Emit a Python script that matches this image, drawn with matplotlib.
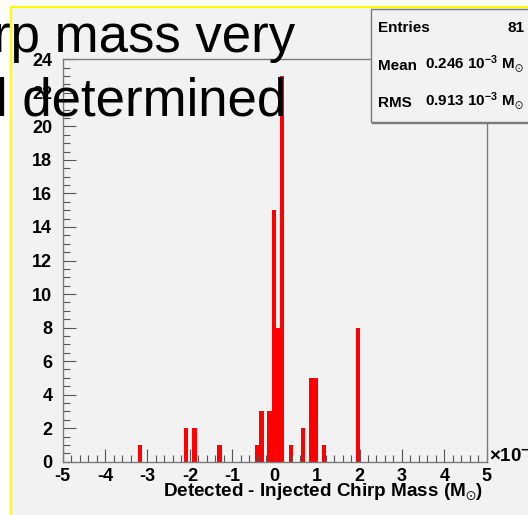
import matplotlib
matplotlib.use("Agg")
import matplotlib.pyplot as plt
from matplotlib.patches import Rectangle
from matplotlib.lines import Line2D
from matplotlib.ticker import MultipleLocator

# histogram of detected - injected chirp mass, units of 1e-3 Msun
bin_centres = [-3.17, -2.09, -1.89, -1.30, -0.41, -0.31, -0.12, -0.02,
               0.08, 0.18, 0.38, 0.67, 0.87, 0.97, 1.17, 1.97]
counts = [1, 2, 2, 1, 1, 3, 3, 15, 8, 23, 1, 2, 5, 5, 1, 8]
bin_width = 0.1

x_range = (-5, 5)
y_range = (0, 24)

stats_names = ["Entries", "Mean", "RMS"]
stats_values = ["81", r"0.246 10$^{-3}$ M$_{\odot}$", r"0.913 10$^{-3}$ M$_{\odot}$"]

title_lines = ["rp mass very", "l determined"]

W, H = 528, 515
BG = "#f2f2f2"
GREY = "#7a7a7a"

plt.rcParams["font.family"] = ["Liberation Sans", "DejaVu Sans"]
plt.rcParams["axes.unicode_minus"] = False
plt.rcParams["mathtext.fontset"] = "custom"
plt.rcParams["mathtext.rm"] = "Liberation Sans:bold"
plt.rcParams["mathtext.it"] = "Liberation Sans:bold"
plt.rcParams["mathtext.bf"] = "Liberation Sans:bold"
plt.rcParams["mathtext.fallback"] = "stixsans"


def fx(px):
    return px / W


def fy(py):
    return 1 - py / H


fig = plt.figure(figsize=(W / 100, H / 100), dpi=100, facecolor="white")

# slide panel with yellow border
panel = Rectangle((fx(11), fy(H + 5)), fx(W + 10), fy(7) - fy(H + 5),
                  transform=fig.transFigure, facecolor=BG,
                  edgecolor="#ffff00", linewidth=1.5, zorder=-5)
fig.patches.append(panel)

ax = fig.add_axes([fx(62.7), fy(461.7), fx(486.7) - fx(62.7), fy(59.3) - fy(461.7)])
ax.set_facecolor(BG)
ax.bar(bin_centres, counts, width=bin_width, color="#ff0000", linewidth=0)
ax.set_xlim(*x_range)
ax.set_ylim(*y_range)

for s in ax.spines.values():
    s.set_color(GREY)
    s.set_linewidth(1)

ax.xaxis.set_major_locator(MultipleLocator(1))
ax.xaxis.set_minor_locator(MultipleLocator(0.2))
ax.yaxis.set_major_locator(MultipleLocator(2))
ax.yaxis.set_minor_locator(MultipleLocator(0.5))
ax.tick_params(which="both", direction="in", color="#555555", width=0.8)
ax.tick_params(which="major", length=9.4)
ax.tick_params(which="minor", length=5)
ax.tick_params(axis="y", which="major", pad=7.5)
ax.tick_params(axis="x", which="major", pad=4.5)
for lab in ax.get_xticklabels() + ax.get_yticklabels():
    lab.set_fontweight("bold")
    lab.set_fontsize(13)

fig.text(fx(483), fy(496.5), r"Detected - Injected Chirp Mass (M$_{\odot}$)",
         ha="right", va="baseline", fontsize=13.6, fontweight="bold")
fig.text(fx(489), fy(462), r"$\times$10$^{-3}$", ha="left", va="baseline",
         fontsize=13.5, fontweight="bold")

# stats box
box = Rectangle((fx(371), fy(122)), fx(W + 10) - fx(371), fy(9) - fy(122),
                transform=fig.transFigure, facecolor=BG, edgecolor=GREY,
                linewidth=1, zorder=5)
fig.patches.append(box)
fig.add_artist(Line2D([fx(372), fx(W)], [fy(123), fy(123)], color=GREY,
                      linewidth=1, transform=fig.transFigure, zorder=5))
for i, (name, val) in enumerate(zip(stats_names, stats_values)):
    base = 32 + i * 37.5
    fig.text(fx(378), fy(base), name, ha="left", va="baseline",
             fontsize=11, fontweight="bold", zorder=6)
    fig.text(fx(524), fy(base), val, ha="right", va="baseline",
             fontsize=11, fontweight="bold", zorder=6)

# slide title text lying over the plot
fig.text(fx(-7), fy(52), title_lines[0], ha="left", va="baseline",
         fontsize=38, color="black", zorder=10)
fig.text(fx(-4.5), fy(115), title_lines[1], ha="left", va="baseline",
         fontsize=38, color="black", zorder=10)

fig.savefig("out.png", dpi=100, facecolor=fig.get_facecolor())
